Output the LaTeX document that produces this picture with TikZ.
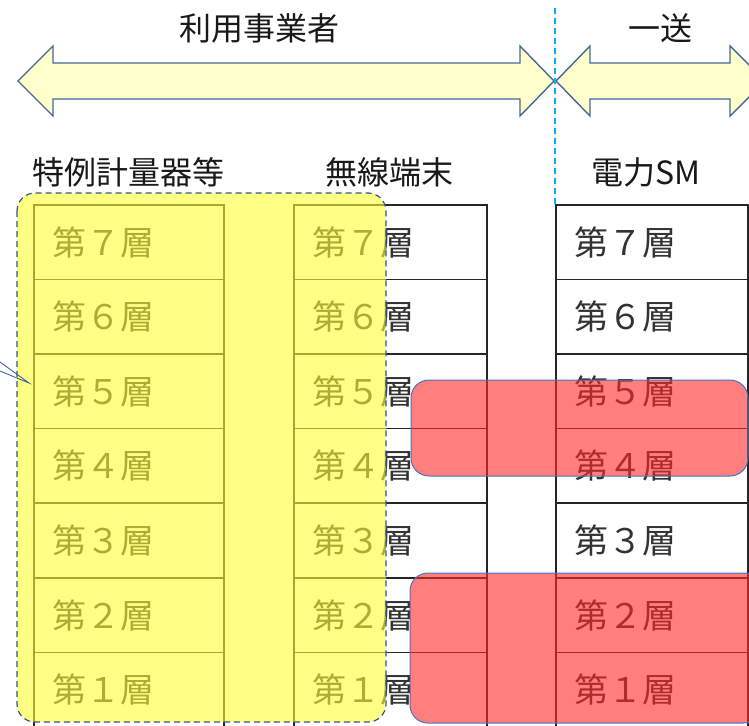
\documentclass[tikz,border=0pt]{standalone}
\usepackage{fontspec}
\setmainfont{Noto Sans CJK JP}
\usetikzlibrary{positioning}
\definecolor{arrowfill}{RGB}{255,255,204}
\definecolor{arrowline}{RGB}{68,104,152}
\definecolor{splitline}{RGB}{0,176,240}
\definecolor{zoneblue}{RGB}{47,85,151}
\definecolor{hiyellow}{RGB}{255,255,50}
\definecolor{hired}{RGB}{255,40,40}
\definecolor{redline}{RGB}{68,114,196}
\tikzset{
  layerbox/.style={draw=black!85, line width=1.6pt, fill=white, minimum width=#1,
    minimum height=74.6pt, inner sep=0pt, anchor=north west},
  layerbox/.default=191pt,
  layertext/.style={inner sep=0pt, font=\fontsize{34}{34}\selectfont, text=black!80},
  headtext/.style={inner sep=0pt, font=\fontsize{32}{32}\selectfont, text=black!90},
  bigarrow/.style={fill=arrowfill, draw=arrowline, line width=1.4pt, line join=miter},
}
\begin{document}
\begin{tikzpicture}[x=1pt, y=-1pt]
  \useasboundingbox (0,0) rectangle (749,725);
  \clip (0,0) rectangle (749,725);

  % arrows on top
  \draw[bigarrow] (18,81) -- (53,46) -- (53,63) -- (520,63) -- (520,46) -- (554,81)
    -- (520,116) -- (520,99) -- (53,99) -- (53,116) -- cycle;
  \draw[bigarrow] (556,81) -- (590,46) -- (590,63) -- (730,63) -- (730,46) -- (765,81)
    -- (730,116) -- (730,99) -- (590,99) -- (590,116) -- cycle;
  \node[headtext] (user) at (259,28) {利用事業者};
  \node[headtext] (tso) at (660,28) {一送};

  % column titles
  \node[headtext] (meter) at (128,172) {特例計量器等};
  \node[headtext] (radio) at (389,172) {無線端末};
  \node[headtext] (sm) at (646,172) {電力SM};

  % layers
  \foreach \n/\z [count=\r from 0] in {7/７,6/６,5/５,4/４,3/３,2/２,1/１} {
    \node[layerbox=190pt] (a\n) at (33,{204+74.6*\r}) {};
    \node[layerbox=193pt] (b\n) at (293,{204+74.6*\r}) {};
    \node[layerbox=192pt] (c\n) at (555,{204+74.6*\r}) {};
    \foreach \col in {a,b,c}
      \node[layertext, right=19pt of \col\n.west] (t\col\n) {第\z 層};
  }
  \draw[splitline, line width=1.2pt, dash pattern=on 6pt off 4pt] (555,8) -- (c7.north west);

  % yellow zone
  \fill[hiyellow, fill opacity=0.6, rounded corners=18pt] (17,193) rectangle (386,722);
  \draw[zoneblue, line width=1.2pt, dash pattern=on 6pt off 4pt, rounded corners=18pt]
    (17,193) rectangle (386,722);
  \draw[zoneblue, line width=0.8pt] (0,362) -- (29,383) -- (0,371);

  % red zones
  \filldraw[fill=hired, fill opacity=0.6, draw=redline, line width=1pt, rounded corners=18pt]
    (411,380) rectangle (748,476);
  \filldraw[fill=hired, fill opacity=0.6, draw=redline, line width=1pt, rounded corners=18pt]
    (410,573) rectangle (762,723);
\end{tikzpicture}
\end{document}
